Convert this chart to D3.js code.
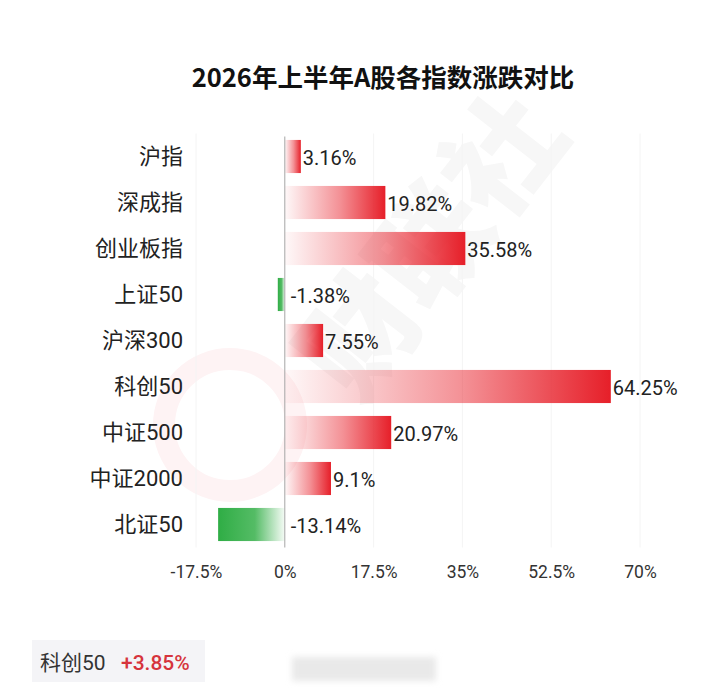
<!DOCTYPE html>
<html>
<head>
<meta charset="utf-8">
<script src="https://cdn.jsdelivr.net/npm/d3@7"></script>
<style>
  html, body { margin: 0; padding: 0; background: #fff; }
  svg { display: block; font-family: Roboto, "Noto Sans CJK SC", sans-serif; }
</style>
</head>
<body>
<svg id="chart" width="728" height="688"></svg>
<script>
'use strict';

const TITLE = '2026年上半年A股各指数涨跌对比';
const categories = ['沪指', '深成指', '创业板指', '上证50', '沪深300', '科创50', '中证500', '中证2000', '北证50'];
const changes = [3.16, 19.82, 35.58, -1.38, 7.55, 64.25, 20.97, 9.1, -13.14];
const tickValues = [-17.5, 0, 17.5, 35, 52.5, 70];
const badgeName = '科创50';
const badgeChange = '+3.85%';

const svg = d3.select('#chart');
const defs = svg.append('defs');

// red gradient: pale at zero, strong at the bar end
const redGrad = defs.append('linearGradient')
    .attr('id', 'redGrad')
    .attr('x1', '0%').attr('x2', '100%').attr('y1', '0%').attr('y2', '0%');
redGrad.append('stop').attr('offset', '0%').attr('stop-color', '#e8212b').attr('stop-opacity', 0.03);
redGrad.append('stop').attr('offset', '55%').attr('stop-color', '#e8212b').attr('stop-opacity', 0.5);
redGrad.append('stop').attr('offset', '100%').attr('stop-color', '#e61f29').attr('stop-opacity', 1);

// green gradient runs the other way
const greenGrad = defs.append('linearGradient')
    .attr('id', 'greenGrad')
    .attr('x1', '0%').attr('x2', '100%').attr('y1', '0%').attr('y2', '0%');
greenGrad.append('stop').attr('offset', '0%').attr('stop-color', '#2fad45').attr('stop-opacity', 1);
greenGrad.append('stop').attr('offset', '55%').attr('stop-color', '#36b04a').attr('stop-opacity', 0.85);
greenGrad.append('stop').attr('offset', '100%').attr('stop-color', '#3bb24e').attr('stop-opacity', 0.05);

defs.append('filter')
    .attr('id', 'blur')
    .attr('x', '-20%').attr('y', '-50%').attr('width', '140%').attr('height', '200%')
    .append('feGaussianBlur')
    .attr('stdDeviation', 3);

// faint watermark
const wm = svg.append('g').attr('class', 'watermark');
wm.append('circle')
    .attr('cx', 230)
    .attr('cy', 425)
    .attr('r', 66)
    .attr('fill', 'none')
    .attr('stroke', '#fef3f4')
    .attr('stroke-width', 22);
wm.append('text')
    .attr('transform', 'translate(425,240) rotate(-52)')
    .attr('text-anchor', 'middle')
    .attr('dominant-baseline', 'central')
    .attr('font-size', 115)
    .attr('font-weight', 900)
    .attr('font-family', '"Noto Sans CJK SC", sans-serif')
    .attr('fill', '#f7f7f7')
    .text('财联社');

const x = d3.scaleLinear()
    .domain([tickValues[0], tickValues[tickValues.length - 1]])
    .range([196, 640]);

const y = d3.scaleBand()
    .domain(categories)
    .range([133.5, 547.5])
    .paddingInner(0.28)
    .paddingOuter(0.14);

const plotTop = y.range()[0];
const plotBottom = y.range()[1];

// title
svg.append('text')
    .attr('x', 383)
    .attr('y', 87)
    .attr('text-anchor', 'middle')
    .attr('font-family', '"Noto Sans CJK SC", sans-serif')
    .attr('font-size', 25.5)
    .attr('font-weight', 700)
    .attr('fill', '#111')
    .text(TITLE);

// vertical grid lines
svg.append('g')
    .attr('class', 'grid')
    .selectAll('line')
    .data(tickValues.filter(function(d) { return d !== 0; }))
    .enter()
    .append('line')
    .attr('x1', function(d) { return x(d); })
    .attr('x2', function(d) { return x(d); })
    .attr('y1', plotTop)
    .attr('y2', plotBottom)
    .attr('stroke', '#f4f4f4')
    .attr('stroke-width', 1);

// bars
const rows = categories.map(function(c, i) {
    return { name: c, value: changes[i] };
});

svg.append('g')
    .attr('class', 'bars')
    .selectAll('rect')
    .data(rows)
    .enter()
    .append('rect')
    .attr('x', function(d) { return x(Math.min(0, d.value)); })
    .attr('y', function(d) { return y(d.name); })
    .attr('width', function(d) { return Math.abs(x(d.value) - x(0)); })
    .attr('height', y.bandwidth())
    .attr('fill', function(d) { return d.value >= 0 ? 'url(#redGrad)' : 'url(#greenGrad)'; });

// zero line
svg.append('line')
    .attr('x1', x(0))
    .attr('x2', x(0))
    .attr('y1', plotTop + 3)
    .attr('y2', plotBottom)
    .attr('stroke', '#a6a6a6')
    .attr('stroke-width', 1);

// value labels
svg.append('g')
    .attr('class', 'values')
    .selectAll('text')
    .data(rows)
    .enter()
    .append('text')
    .attr('x', function(d) { return d.value >= 0 ? x(d.value) + 2 : x(0) + 6; })
    .attr('y', function(d) { return y(d.name) + y.bandwidth() / 2 + 1; })
    .attr('dominant-baseline', 'central')
    .attr('font-size', 20)
    .attr('fill', '#222')
    .text(function(d) { return d.value + '%'; });

// category axis
const yAxis = svg.append('g')
    .attr('transform', 'translate(' + x.range()[0] + ',0)')
    .call(d3.axisLeft(y).tickSize(0).tickPadding(13));
yAxis.select('.domain').remove();
yAxis.selectAll('text')
    .attr('font-size', 22)
    .attr('font-family', 'Roboto, "Noto Sans CJK SC", sans-serif')
    .attr('fill', '#222');

// value axis
const xAxis = svg.append('g')
    .attr('transform', 'translate(0,' + plotBottom + ')')
    .call(d3.axisBottom(x)
        .tickValues(tickValues)
        .tickFormat(function(d) { return d + '%'; })
        .tickSize(0)
        .tickPadding(18));
xAxis.select('.domain').remove();
xAxis.selectAll('text')
    .attr('font-size', 17.5)
    .attr('font-family', 'Roboto, "Noto Sans CJK SC", sans-serif')
    .attr('fill', '#333');

// quote badge at the bottom
const badge = svg.append('g').attr('class', 'badge');
badge.append('rect')
    .attr('x', 32)
    .attr('y', 640)
    .attr('width', 173)
    .attr('height', 42)
    .attr('fill', '#f4f4f7');
badge.append('text')
    .attr('x', 40)
    .attr('y', 670)
    .attr('font-size', 21)
    .attr('fill', '#333')
    .text(badgeName);
badge.append('text')
    .attr('x', 121)
    .attr('y', 670)
    .attr('font-size', 21)
    .attr('font-weight', 500)
    .attr('fill', '#d6343d')
    .text(badgeChange);

// blurred caption smudge
svg.append('rect')
    .attr('x', 292)
    .attr('y', 657)
    .attr('width', 144)
    .attr('height', 24)
    .attr('fill', '#e9e9e9')
    .attr('filter', 'url(#blur)');
</script>
</body>
</html>
